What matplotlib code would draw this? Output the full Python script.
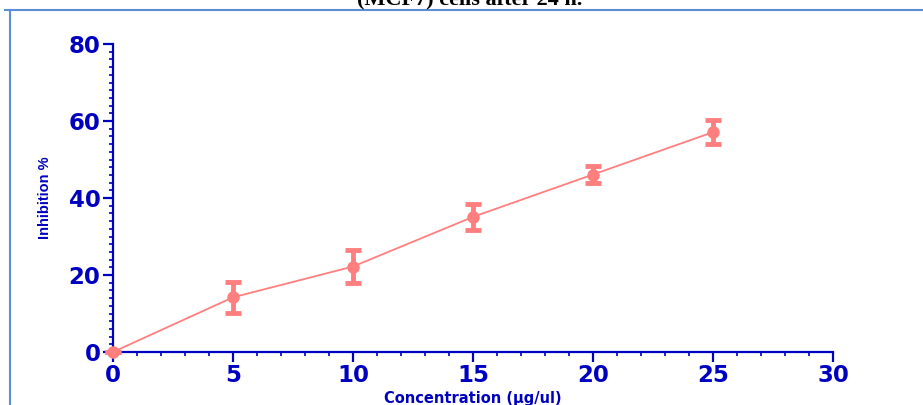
import matplotlib
matplotlib.use("Agg")
import matplotlib.pyplot as plt
from matplotlib.lines import Line2D
from matplotlib.ticker import MultipleLocator

# Dose-response data
concentration = [0, 5, 10, 15, 20, 25]
inhibition = [0.0, 14.2, 22.2, 35.1, 46.1, 57.1]
inhibition_err = [0.0, 4.0, 4.2, 3.3, 2.1, 3.1]

x_ticks = [0, 5, 10, 15, 20, 25, 30]
y_ticks = [0, 20, 40, 60, 80]

AXIS_BLUE = "#0000c0"
SERIES = "#ff7f7f"
FRAME = "#5b8dd9"

fig = plt.figure(figsize=(9.23, 4.05), dpi=100)
ax = fig.add_axes([113 / 923, 1 - 352 / 405, 720 / 923, 308 / 405])

ax.errorbar(concentration, inhibition, yerr=inhibition_err,
            color=SERIES, ecolor=SERIES, lw=1.3, elinewidth=3.5,
            capsize=6, capthick=3.5, marker="o", markersize=8,
            markeredgecolor=SERIES, markerfacecolor=SERIES,
            zorder=5, clip_on=False)

ax.set_xlim(0, 30)
ax.set_ylim(0, 80)
ax.set_xticks(x_ticks)
ax.set_yticks(y_ticks)
ax.xaxis.set_minor_locator(MultipleLocator(1))
ax.yaxis.set_minor_locator(MultipleLocator(2))

for side in ("top", "right"):
    ax.spines[side].set_visible(False)
for side in ("left", "bottom"):
    ax.spines[side].set_color(AXIS_BLUE)
    ax.spines[side].set_linewidth(1.6)

ax.tick_params(which="major", direction="out", length=7, width=1.6,
               color=AXIS_BLUE, labelcolor=AXIS_BLUE, pad=2)
ax.tick_params(which="minor", direction="out", length=3, width=1.2,
               color=AXIS_BLUE)
for lab in ax.get_xticklabels() + ax.get_yticklabels():
    lab.set_fontfamily("DejaVu Sans")
    lab.set_fontweight("bold")
    lab.set_fontsize(16.5)

ax.set_ylabel("Inhibition %", color=AXIS_BLUE, fontsize=10.5,
              fontweight="bold",
              family=["Liberation Sans Narrow", "Liberation Sans", "DejaVu Sans"])
ax.yaxis.set_label_coords(-0.085, 0.5)
ax.set_xlabel("Concentration (µg/ul)", color=AXIS_BLUE, fontsize=10.5,
              fontweight="bold", family=["DejaVu Sans"])
ax.xaxis.set_label_coords(0.5, -0.125)

# Caption line running off the top edge
fig.text(470 / 923, 1 - 4 / 405, "(MCF7) cells after 24 h.",
         ha="center", va="baseline", fontsize=16, fontweight="bold",
         family=["Liberation Serif", "DejaVu Serif"], color="black")

# Frame border along the top and left edges
fig.add_artist(Line2D([5 / 923, 1.0], [1 - 10 / 405, 1 - 10 / 405],
                      transform=fig.transFigure, color=FRAME, lw=1.5))
fig.add_artist(Line2D([10 / 923, 10 / 923], [0.0, 1 - 10 / 405],
                      transform=fig.transFigure, color=FRAME, lw=1.5))

fig.savefig("out.png", dpi=100)
